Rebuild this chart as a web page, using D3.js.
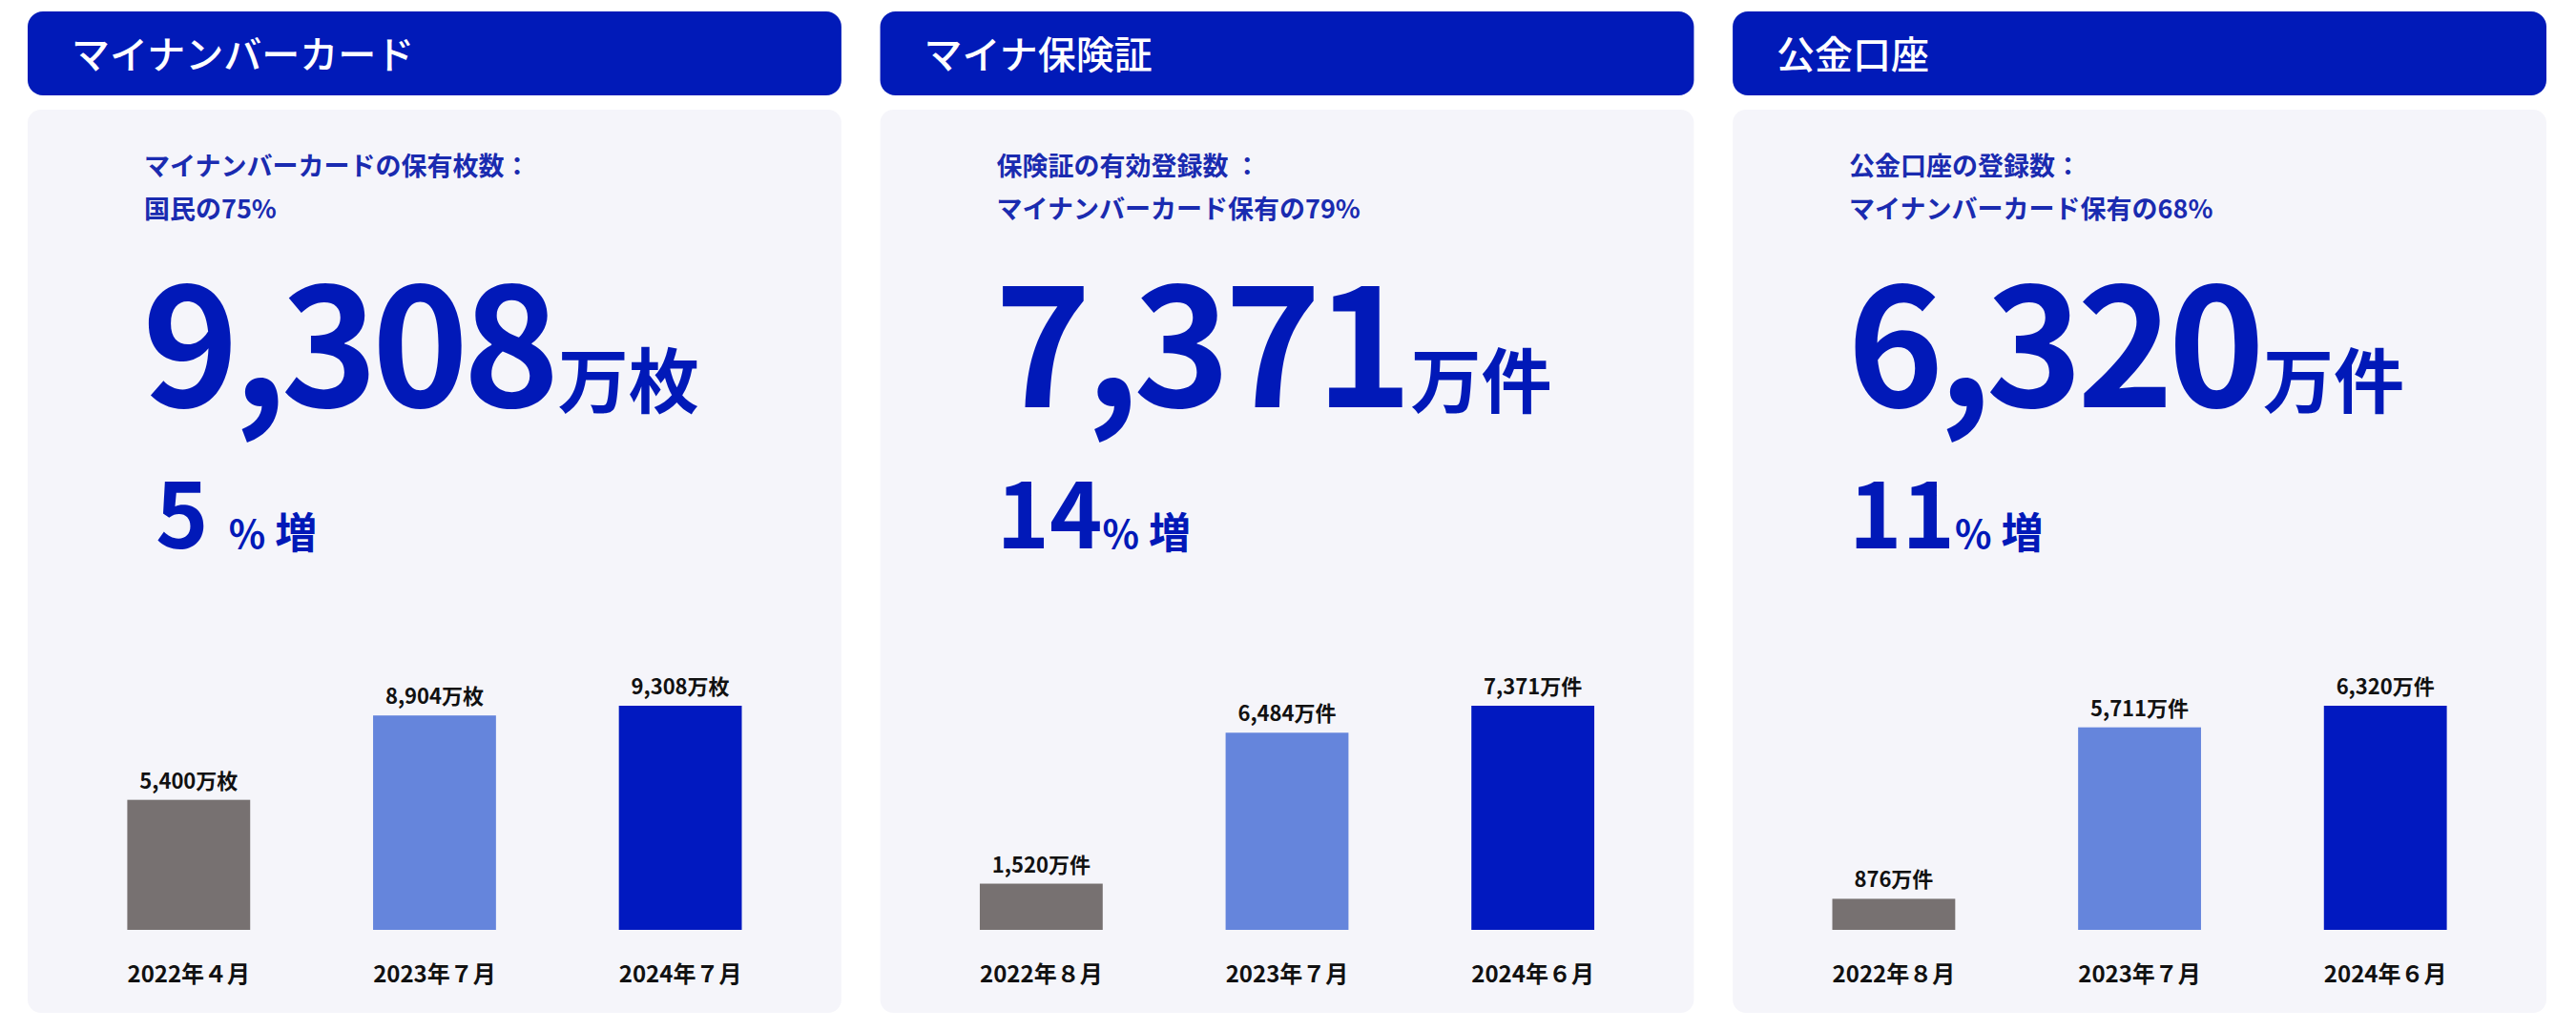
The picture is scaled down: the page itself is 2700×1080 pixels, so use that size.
<!DOCTYPE html>
<html><head><meta charset="utf-8">
<script src="https://cdn.jsdelivr.net/npm/d3@7"></script>
<style>body{margin:0;background:#fff}svg{display:block}</style>
</head><body><svg id="c" width="2700" height="1080"></svg>
<script>
const titles = ["マイナンバーカード","マイナ保険証","公金口座"];
const subLine1 = ["マイナンバーカードの保有枚数：","保険証の有効登録数 ：","公金口座の登録数："];
const subLine2 = ["国民の75%","マイナンバーカード保有の79%","マイナンバーカード保有の68%"];
const bigNumbers = ["9,308","7,371","6,320"];
const units = ["万枚","万件","万件"];
const growth = ["5 ","14","11"];
const categories = [
  ["2022年４月","2023年７月","2024年７月"],
  ["2022年８月","2023年７月","2024年６月"],
  ["2022年８月","2023年７月","2024年６月"]
];
const values = [[5400,8904,9308],[1520,6484,7371],[876,5711,6320]];
const barColors = ["#777171","#6585dc","#0119c0"];

const svg = d3.select("#c");
const FONT = "'Noto Sans CJK JP','Noto Sans',sans-serif";
const panelX = d3.scaleBand().domain([0,1,2]).range([29,2669]).paddingInner(0.0455);
const pw = panelX.bandwidth();

[0,1,2].forEach(i=>{
  const g = svg.append("g").attr("transform",`translate(${panelX(i)},0)`);
  g.append("rect").attr("x",0).attr("y",12).attr("width",pw).attr("height",88).attr("rx",16).attr("fill","#011ab8");
  g.append("text").attr("x",46).attr("y",72).attr("fill","#fff").attr("font-family",FONT).attr("font-size",40).attr("font-weight",500).text(titles[i]);
  g.append("rect").attr("x",0).attr("y",115).attr("width",pw).attr("height",947).attr("rx",14).attr("fill","#f5f5fa");
  g.append("text").attr("x",122).attr("y",184).attr("fill","#1a2bb0").attr("font-family",FONT).attr("font-size",27).attr("font-weight",700).text(subLine1[i]);
  g.append("text").attr("x",122).attr("y",229).attr("fill","#1a2bb0").attr("font-family",FONT).attr("font-size",27).attr("font-weight",700).text(subLine2[i]);
  const big = g.append("text").attr("x",120).attr("y",427).attr("fill","#0119b8").attr("font-family",FONT).attr("font-weight",700);
  big.append("tspan").attr("font-size",172).attr("letter-spacing",-6).text(bigNumbers[i]);
  big.append("tspan").attr("font-size",74).attr("dx",4).text(units[i]);
  const gr = g.append("text").attr("x",i===0?134:122).attr("y",575).attr("fill","#0119b8").attr("font-family",FONT).attr("font-weight",700).attr("xml:space","preserve");
  gr.append("tspan").attr("font-size",94).text(growth[i]);
  gr.append("tspan").attr("font-size",40).text("%");
  gr.append("tspan").attr("font-size",44).attr("dx",10).text("増");

  const x = d3.scaleBand().domain(categories[i]).range([40,pw-40]).paddingInner(0.5).paddingOuter(0.25);
  const y = d3.scaleLinear().domain([0,d3.max(values[i])]).range([975,740]);
  const data = categories[i].map((c,j)=>({c,v:values[i][j],j}));
  g.selectAll(".bar").data(data).join("rect").attr("x",d=>x(d.c)).attr("width",x.bandwidth())
    .attr("y",d=>y(d.v)).attr("height",d=>975-y(d.v)).attr("fill",d=>barColors[d.j]);
  g.selectAll(".vl").data(data).join("text").attr("x",d=>x(d.c)+x.bandwidth()/2).attr("y",d=>y(d.v)-12)
    .attr("text-anchor","middle").attr("font-family",FONT).attr("font-size",22).attr("font-weight",700).attr("fill","#111")
    .text(d=>d3.format(",")(d.v)+units[i]);
  g.selectAll(".cl").data(data).join("text").attr("x",d=>x(d.c)+x.bandwidth()/2).attr("y",1030)
    .attr("text-anchor","middle").attr("font-family",FONT).attr("font-size",24).attr("font-weight",700).attr("fill","#111")
    .text(d=>d.c);
});
</script></body></html>
